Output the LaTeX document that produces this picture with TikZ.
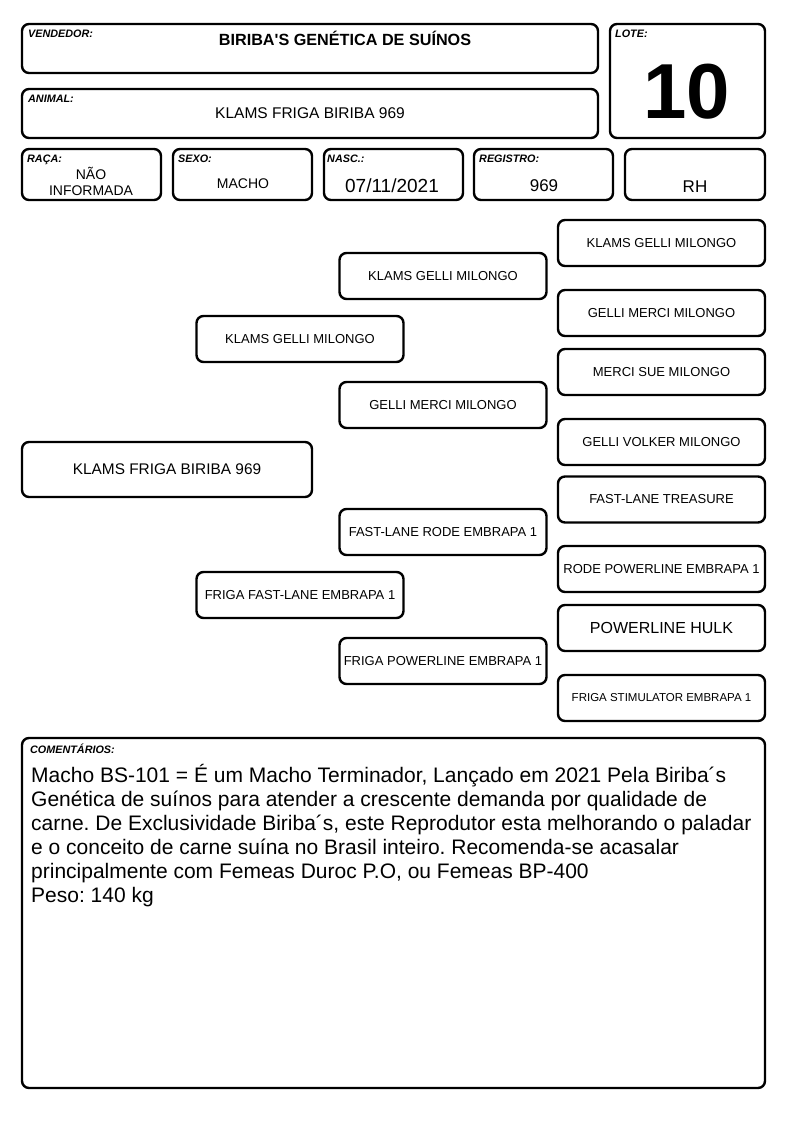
\documentclass[tikz,border=0pt]{standalone}
\usepackage{fontspec}
\setmainfont{Liberation Sans}[Ligatures=TeXOff]
\usetikzlibrary{positioning}
\frenchspacing
\begin{document}
\begin{tikzpicture}[x=1pt,y=-1pt]
		\tikzstyle{frame} = [draw, line width=2.4, rounded corners=7, inner sep=0]
		\tikzstyle{tag} = [anchor=north west, inner sep=0, font=\fontsize{10.8}{12}\selectfont\bfseries\itshape]
		\tikzstyle{val} = [inner sep=0, align=center, font=\fontsize{14}{16}\selectfont]
		\tikzstyle{block} = [frame, minimum width=207, minimum height=46, align=center, font=\fontsize{13}{15}\selectfont]
		\useasboundingbox (0,0) rectangle (794,1123);
		
		% header
		\node [frame, minimum width=576, minimum height=49] (h1) at (310,48.5) {};
		\node [frame, minimum width=155, minimum height=114] (h2) at (687.5,81) {};
		\node [frame, minimum width=576, minimum height=49] (h3) at (310,113.5) {};
		\node [frame, minimum width=139, minimum height=51] (h4) at (91.5,174.5) {};
		\node [frame, minimum width=139, minimum height=51] (h5) at (242.5,174.5) {};
		\node [frame, minimum width=139, minimum height=51] (h6) at (393.5,174.5) {};
		\node [frame, minimum width=139, minimum height=51] (h7) at (543.5,174.5) {};
		\node [frame, minimum width=140, minimum height=51] (h8) at (695,174.5) {};
		\node [tag] at (28,30) {VENDEDOR:};
		\node [tag] at (615,30) {LOTE:};
		\node [tag] at (28,95) {ANIMAL:};
		\node [tag] at (27,155) {RAÇA:};
		\node [tag] at (178,155) {SEXO:};
		\node [tag] at (327,155) {NASC.:};
		\node [tag] at (479,155) {REGISTRO:};
		\node [val, font=\fontsize{16.2}{18}\selectfont\bfseries] at (345,38) {BIRIBA'S GENÉTICA DE SUÍNOS};
		\node [val, font=\fontsize{78}{80}\selectfont\bfseries] at (687,92) {10};
		\node [val, font=\fontsize{15.5}{17}\selectfont] at (310,113) {KLAMS FRIGA BIRIBA 969};
		\node [val, font=\fontsize{14}{16}\selectfont] at (91,181) {NÃO\\INFORMADA};
		\node [val] at (243,184) {MACHO};
		\node [val, font=\fontsize{19}{21}\selectfont] at (392,186) {07/11/2021};
		\node [val, font=\fontsize{17}{19}\selectfont] at (544,186) {969};
		\node [val, font=\fontsize{17}{19}\selectfont] at (695,187) {RH};
		
		% pedigree
		\node [block, minimum width=290, minimum height=55, font=\fontsize{15.4}{17}\selectfont] (v1) at (167,469.5) {KLAMS FRIGA BIRIBA 969};
		\node [block] (v2) at (300,339) {KLAMS GELLI MILONGO};
		\node [block] (v3) at (300,595) {FRIGA FAST-LANE EMBRAPA 1};
		\node [block] (v4) at (443,276) {KLAMS GELLI MILONGO};
		\node [block] (v5) at (443,405) {GELLI MERCI MILONGO};
		\node [block] (v6) at (443,532) {FAST-LANE RODE EMBRAPA 1};
		\node [block] (v7) at (443,661) {FRIGA POWERLINE EMBRAPA 1};
		\node [block] (v8) at (661.5,243) {KLAMS GELLI MILONGO};
		\node [block] (v9) at (661.5,313) {GELLI MERCI MILONGO};
		\node [block] (v10) at (661.5,372) {MERCI SUE MILONGO};
		\node [block] (v11) at (661.5,442) {GELLI VOLKER MILONGO};
		\node [block] (v12) at (661.5,499.5) {FAST-LANE TREASURE};
		\node [block] (v13) at (661.5,569) {RODE POWERLINE EMBRAPA 1};
		\node [block, font=\fontsize{16}{18}\selectfont] (v14) at (661.5,628) {POWERLINE HULK};
		\node [block, font=\fontsize{11.5}{13}\selectfont] (v15) at (661.5,698) {FRIGA STIMULATOR EMBRAPA 1};
		
		% comments
		\node [frame, minimum width=743, minimum height=350] (c1) at (393.5,913) {};
		\node [tag] at (30,744) {COMENTÁRIOS:};
		\node [anchor=north west, inner sep=0, align=left, font=\fontsize{21}{24}\selectfont] (c2) at (31,764) {Macho BS-101 = É um Macho Terminador, Lançado em 2021 Pela Biriba´s\\
			Genética de suínos para atender a crescente demanda por qualidade de\\
			carne. De Exclusividade Biriba´s, este Reprodutor esta melhorando o paladar\\
			e o conceito de carne suína no Brasil inteiro. Recomenda-se acasalar\\
			principalmente com Femeas Duroc P.O, ou Femeas BP-400\\
			Peso: 140 kg};
\end{tikzpicture}
\end{document}
